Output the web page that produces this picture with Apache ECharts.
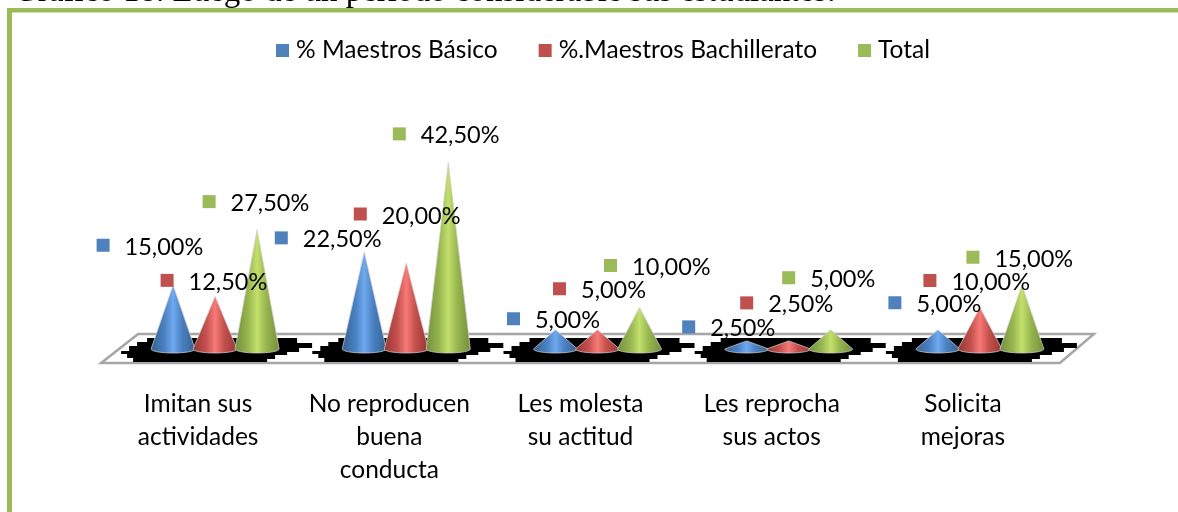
<!DOCTYPE html>
<html><head><meta charset="utf-8">
<style>html,body{margin:0;padding:0;background:#fff}#c{width:1178px;height:512px}</style>
<script src="https://cdn.jsdelivr.net/npm/echarts@6/dist/echarts.min.js"></script>
</head><body><div id="c"></div>
<script>
const categories = ['Imitan sus\nactividades', 'No reproducen\nbuena\nconducta', 'Les molesta\nsu actitud', 'Les reprocha\nsus actos', 'Solicita\nmejoras'];
const basico = [15, 22.5, 5, 2.5, 5];
const bachillerato = [12.5, 20, 5, 2.5, 10];
const total = [27.5, 42.5, 10, 5, 15];
const seriesNames = ['% Maestros Básico', '%.Maestros Bachillerato', 'Total'];
const titleText = 'Gráfico 18. Luego de un período considerable sus estudiantes:';

// hand-placed label offsets from each cone tip (marker centre)
const offsetsBasico = [[-70,-40],[-83,-14],[-42,-11],[-58,-14],[-43,-27]];
const offsetsBachillerato = [[-48,-16],[-46,-49],[-38,-41],[-42,-38],[-50,-27]];
const offsetsTotal = [[-48,-28],[-49,-29],[-29,-42],[-42,-52],[-49,-28]];

const FONT = 'Lato';
const FS = 24.5;
const LABEL_FS = 23.5;
const fmt = v => v.toFixed(2).replace('.', ',') + '%';
const grad = c => ({type:'linear',x:0,y:0,x2:1,y2:0,colorStops:[
  {offset:0,color:c[0]},{offset:.3,color:c[1]},{offset:.5,color:c[2]},{offset:.7,color:c[1]},{offset:1,color:c[0]}]});

function coneSeries(name, data, offs, slot, base, colors) {
  return {
    name, type:'custom', coordinateSystem:'cartesian2d', z:5,
    itemStyle:{color:base},
    data: data.map((v,i)=>[i,v]),
    encode:{x:0,y:1},
    renderItem(params, api){
      const i = api.value(0), v = api.value(1);
      const tip = api.coord([i, v]), foot = api.coord([i, 0]);
      const band = api.size([1,0])[0];
      const x = foot[0] + slot*band*0.2197;
      const half = 22, ry = 4, rim = foot[1] - 3;
      const off = offs[i];
      const mx = x + off[0], my = tip[1] + off[1];
      const outline = [[x,tip[1]]];
      for (let a = 0; a <= 180; a += 10) {
        const r = a*Math.PI/180;
        outline.push([x + half*Math.cos(r), rim + ry*Math.sin(r)]);
      }
      return {type:'group', children:[
        {type:'polygon', shape:{points:outline},
         style:{fill:grad(colors),stroke:'rgba(205,205,205,.75)',lineWidth:1,lineJoin:'round'}},
        {type:'rect', z2:10, shape:{x:mx-6.5,y:my-6.5,width:13,height:13},
         style:{fill:base}},
        {type:'text', z2:10, style:{x:mx+21.5,y:my+2,text:fmt(v),fill:'#000',
          font:LABEL_FS+'px '+FONT,textAlign:'left',textVerticalAlign:'middle'}}
      ]};
    }
  };
}

// stepped outline of each group's floor shadow, relative to the group's foot
const shadowSteps = [[-94,-1],[-94,2],[-88,2],[-88,6],[-82,6],[-82,10],[52,10],[52,7],[60,7],[60,3],[72,3],[72,0],[84,0],[84,-4],[97,-4],[97,-9],[82,-9],[82,-14],[-68,-14],[-68,-10],[-78,-10],[-78,-6],[-86,-6],[-86,-1]];

const floorSeries = {
  type:'custom', silent:true, z:1, name:'piso',
  data: categories.map((c,i)=>[i,0]),
  encode:{x:0,y:1},
  renderItem(params, api){
    const i = api.value(0);
    const p = api.coord([i,0]);
    const kids = [];
    if (i === 0) {
      const l = p[0], y = p[1];
      const r = api.coord([categories.length-1,0])[0];
      kids.push({type:'polygon', shape:{points:[[l-114,y+11],[l-77,y-18],[r+114,y-18],[r+80,y+11]]},
        style:{fill:'#fff',stroke:'#a6a6a6',lineWidth:2.5}});
    }
    kids.push({type:'polygon', shape:{points:shadowSteps.map(s=>[p[0]+s[0],p[1]+s[1]])}, style:{fill:'#000'}});
    return {type:'group', children:kids};
  }
};

const chart = echarts.init(document.getElementById('c'));
chart.setOption({
  animation:false,
  backgroundColor:'#fff',
  textStyle:{fontFamily:FONT},
  legend:{
    data:seriesNames, top:33, left:271, icon:'rect',
    itemWidth:13,itemHeight:13,itemGap:41,
    textStyle:{fontFamily:FONT,fontSize:FS,color:'#000',padding:[0,0,0,2]}
  },
  grid:{left:119.5,width:956,top:85,height:267},
  xAxis:{type:'category',data:categories,
    axisLine:{show:false},axisTick:{show:false},splitLine:{show:false},
    axisLabel:{interval:0,margin:36,fontFamily:FONT,fontSize:FS,color:'#000',lineHeight:33,align:'center',padding:[0,34,0,0]}},
  yAxis:{type:'value',min:0,max:60,show:false},
  graphic:[
    {type:'text',left:14,top:-24,style:{text:titleText,font:'33px "Liberation Serif"',fill:'#000'}},
    {type:'rect',shape:{x:7,y:8,width:1171,height:4.5},style:{fill:'#9bbb59'}},
    {type:'rect',shape:{x:7,y:8,width:5,height:504},style:{fill:'#9bbb59'}}
  ],
  series:[
    floorSeries,
    coneSeries(seriesNames[0],basico,offsetsBasico,-1,'#4f81bd',['#34608f','#4a80c2','#6fa9ee']),
    coneSeries(seriesNames[1],bachillerato,offsetsBachillerato,0,'#c0504d',['#963533','#c4504d','#f87a77']),
    coneSeries(seriesNames[2],total,offsetsTotal,1,'#9bbb59',['#728e39','#97b64f','#c3e06b'])
  ]
});
</script></body></html>
